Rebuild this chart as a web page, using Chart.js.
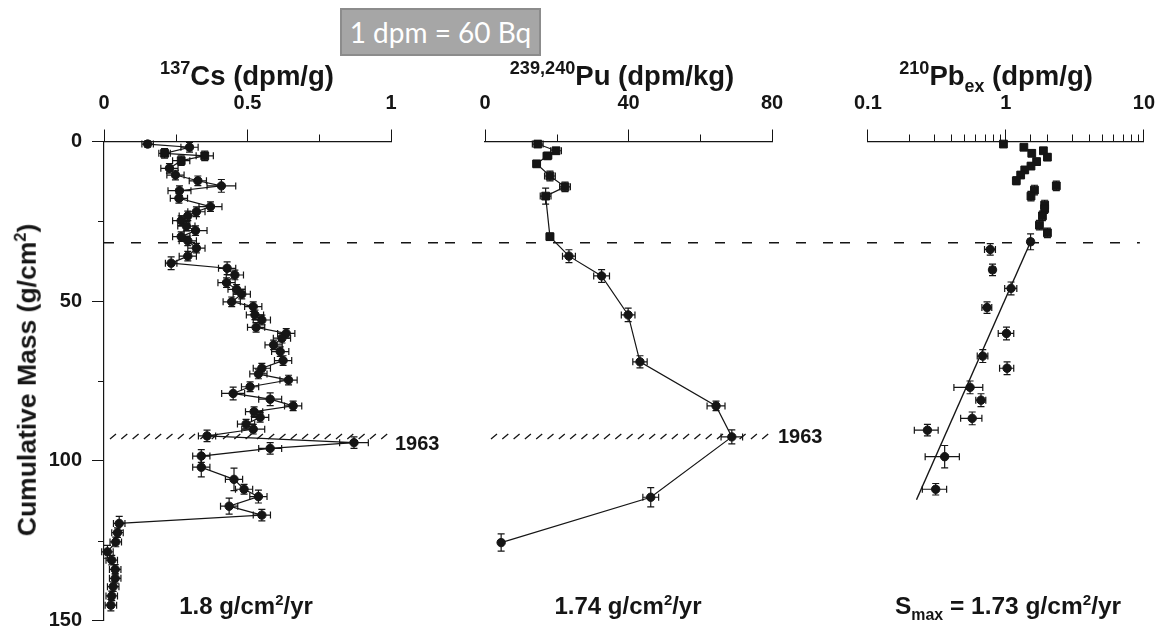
<!DOCTYPE html>
<html><head><meta charset="utf-8">
<script src="https://cdn.jsdelivr.net/npm/chart.js@4.4.1/dist/chart.umd.min.js"></script>
<style>
html,body{margin:0;padding:0;background:#fff;}
#wrap{position:relative;width:1169px;height:633px;overflow:hidden;background:#fff;}
canvas{position:absolute;top:0;}
.lbl{position:absolute;transform:translate(-50%,-50%);white-space:nowrap;font-family:'Liberation Sans',Arial,sans-serif;font-weight:bold;color:#151515;line-height:1;}
.sup{font-size:62%;position:relative;top:-0.62em;}
.sub{font-size:65%;position:relative;top:0.4em;}
.tsup{font-size:66%;position:relative;top:-0.6em;}
.box{position:absolute;left:340px;top:8px;width:201px;height:48px;box-sizing:border-box;background:#a6a6a6;border:2px solid #8c8c8c;color:#fff;font-family:Lato,'Open Sans',sans-serif;font-size:28px;display:flex;align-items:center;justify-content:center;white-space:nowrap;}
</style></head><body>
<div id="wrap">
<canvas id="c1" width="445" height="633" style="left:0px"></canvas>
<canvas id="c2" width="395" height="633" style="left:445px"></canvas>
<canvas id="c3" width="329" height="633" style="left:840px"></canvas>
<div class="box">1 dpm = 60 Bq</div>
<div class="lbl" style="left:247px;top:76px;font-size:27.5px"><span class="tsup">137</span>Cs (dpm/g)</div>
<div class="lbl" style="left:622px;top:76px;font-size:27.5px"><span class="tsup">239,240</span>Pu (dpm/kg)</div>
<div class="lbl" style="left:996px;top:76px;font-size:27.5px"><span class="tsup">210</span>Pb<span class="sub">ex</span> (dpm/g)</div>
<div class="lbl" style="left:27px;top:380px;font-size:26.5px;transform:translate(-50%,-50%) rotate(-90deg)">Cumulative Mass (g/cm<span class="sup">2</span>)</div>
<div class="lbl" style="left:246px;top:606px;font-size:24px">1.8 g/cm<span class="sup">2</span>/yr</div>
<div class="lbl" style="left:628px;top:606px;font-size:24px">1.74 g/cm<span class="sup">2</span>/yr</div>
<div class="lbl" style="left:1008px;top:606px;font-size:24.5px">S<span class="sub">max</span> = 1.73 g/cm<span class="sup">2</span>/yr</div>
</div>
<script>
// ---------- tick values ----------
const massMajor = [0, 50, 100, 150];
const csMajor = [0, 0.5, 1];
const puMajor = [0, 40, 80];
const pbMajor = [0.1, 1, 10];

// ---------- reference horizons (cumulative mass, g/cm2) ----------
const mixedLayerMass = 31.7;
const mass1963 = 92.4;

// ---------- 137Cs ----------
const csMass = [0.8,1.8,3.7,4.5,6.0,8.4,10.5,12.3,13.9,15.4,17.8,20.4,22.0,23.3,24.8,26.5,27.9,29.8,31.1,33.4,35.9,38.1,39.7,41.8,44.2,46.3,47.8,50.2,51.7,54.3,55.9,58.2,60.1,61.6,63.7,65.8,68.6,71.0,72.8,74.7,76.8,78.9,80.7,82.8,84.6,86.4,88.5,90.1,92.2,94.3,96.1,98.5,102.0,105.8,108.9,111.2,114.2,117.0,119.6,122.5,125.4,128.5,131.1,134.0,136.8,139.4,142.3,145.2];
const csAct = [0.152,0.298,0.211,0.351,0.269,0.228,0.249,0.327,0.409,0.263,0.261,0.371,0.322,0.292,0.269,0.287,0.319,0.269,0.292,0.322,0.292,0.234,0.429,0.456,0.427,0.462,0.480,0.445,0.520,0.526,0.550,0.530,0.635,0.620,0.591,0.614,0.624,0.550,0.538,0.643,0.509,0.450,0.579,0.659,0.523,0.544,0.495,0.520,0.359,0.871,0.579,0.339,0.339,0.453,0.488,0.538,0.436,0.550,0.053,0.047,0.041,0.012,0.027,0.039,0.039,0.032,0.027,0.024];
const csErrX = [0.02,0.03,0.02,0.03,0.03,0.03,0.03,0.03,0.05,0.04,0.03,0.04,0.03,0.03,0.03,0.03,0.04,0.03,0.03,0.03,0.03,0.02,0.03,0.03,0.03,0.03,0.03,0.03,0.03,0.03,0.03,0.03,0.03,0.03,0.03,0.03,0.03,0.03,0.03,0.03,0.03,0.04,0.04,0.03,0.03,0.03,0.03,0.04,0.03,0.05,0.04,0.03,0.03,0.03,0.03,0.03,0.03,0.03,0.02,0.02,0.02,0.02,0.02,0.02,0.02,0.02,0.02,0.02];
const csErrY = [1,1.5,1.5,1.5,1.5,1.5,1.5,1.5,2,1.5,1.5,1.5,1.5,1.5,1.5,1.5,1.5,1.5,1.5,1.5,1.5,2,2,1.5,1.5,1.5,1.5,1.5,1.5,1.5,1.5,1.5,1.5,1.5,1.5,1.5,1.5,1.5,1.5,1.5,1.5,2,2,1.5,1.5,1.5,1.5,1.5,1.8,1.8,1.8,2,3,3.5,1.5,2,2.5,1.8,2.2,1.5,1.5,2,1.5,1.5,1.5,1.5,1.5,1.8];
const csSquares = [2, 3, 4];

// ---------- 239,240Pu ----------
const puMass = [0.8,2.9,4.5,7.0,10.8,14.2,17.1,29.8,35.9,42.1,54.3,69.0,82.8,92.5,111.4,125.6];
const puAct = [14.7,19.8,17.4,14.4,18.1,22.3,16.9,18.1,23.4,32.5,39.9,43.2,64.4,68.8,46.2,4.5];
const puErrX = [1.5,1.5,1.2,1,1.5,1.5,1.5,1,1.8,2.2,1.9,2,2.5,3,2.2,0.5];
const puErrY = [1,1,1,1,1.5,1.5,2.5,1,2,2,2.1,1.9,1.5,2.2,3,2.7];
const puSquareCount = 8;

// ---------- 210Pb excess ----------
const pbMass = [0.8,1.8,2.9,3.7,4.9,6.3,7.7,8.9,10.5,12.3,13.9,15.2,17.1,19.9,21.0,23.3,26.2,28.6,31.4,33.8,40.2,46.0,52.0,60.1,67.2,71.0,77.0,81.0,86.7,90.4,98.7,108.9];
const pbAct = [0.96,1.35,1.87,1.54,2.0,1.67,1.52,1.37,1.28,1.19,2.32,1.61,1.52,1.91,1.91,1.84,1.75,2.0,1.51,0.77,0.80,1.09,0.73,1.01,0.68,1.02,0.55,0.66,0.57,0.27,0.36,0.31];
const pbErrX = [0.04,0.06,0.08,0.07,0.09,0.07,0.07,0.06,0.06,0.05,0.10,0.07,0.07,0.08,0.08,0.08,0.08,0.09,0.07,0.07,0.04,0.11,0.06,0.13,0.06,0.12,0.13,0.055,0.10,0.053,0.10,0.062];
const pbErrY = [0.8,0.8,0.8,1,1,1,1,1,1,1.2,1.5,1.5,1.5,1.5,1.5,1.5,1.5,1.5,2.5,1.8,1.8,2,1.8,2,2,2,2,2,2,1.8,3.5,1.8];
const pbSquareCount = 18;
// fitted line (Smax)
const pbFitMass = [31.7, 112.2];
const pbFitAct = [1.5, 0.225];

// ---------- helpers ----------
const INK = '#151515';
const TICKFONT = {family: "'Liberation Sans', Arial, sans-serif", size: 20, weight: 'bold'};
Chart.defaults.color = INK;
Chart.defaults.font.family = "'Liberation Sans', Arial, sans-serif";

function pts(xs, ys){ return xs.map((x,i)=>({x:x, y:ys[i]})); }
function isMajor(v, list){ return list.some(m => Math.abs(m - v) < 1e-9 * Math.max(1, Math.abs(m))); }

function drawErrorBars(chart){
  const ctx = chart.ctx, xs = chart.scales.x, ys = chart.scales.y;
  ctx.save(); ctx.strokeStyle = INK; ctx.lineWidth = 1.2;
  chart.data.datasets.forEach(ds => {
    if (!ds.errX) return;
    ds.data.forEach((p,i) => {
      const px = xs.getPixelForValue(p.x), py = ys.getPixelForValue(p.y);
      const x0 = xs.getPixelForValue(p.x - ds.errX[i]), x1 = xs.getPixelForValue(p.x + ds.errX[i]);
      const y0 = ys.getPixelForValue(p.y - ds.errY[i]), y1 = ys.getPixelForValue(p.y + ds.errY[i]);
      const c = 3.5;
      ctx.beginPath();
      ctx.moveTo(x0,py); ctx.lineTo(x1,py);
      ctx.moveTo(x0,py-c); ctx.lineTo(x0,py+c);
      ctx.moveTo(x1,py-c); ctx.lineTo(x1,py+c);
      ctx.moveTo(px,y0); ctx.lineTo(px,y1);
      ctx.moveTo(px-c,y0); ctx.lineTo(px+c,y0);
      ctx.moveTo(px-c,y1); ctx.lineTo(px+c,y1);
      ctx.stroke();
    });
  });
  ctx.restore();
}

function overlayPlugin(cfg){
  return {
    id: 'overlay',
    beforeDatasetsDraw(chart){ drawErrorBars(chart); },
    afterDraw(chart){
      const ctx = chart.ctx, xs = chart.scales.x, ys = chart.scales.y, a = chart.chartArea;
      ctx.save();
      ctx.strokeStyle = INK;
      ctx.lineWidth = 1;
      xs.ticks.forEach(t => {
        if (isMajor(t.value, cfg.major)) return;
        const px = Math.round(xs.getPixelForValue(t.value)) + 0.5;
        ctx.beginPath(); ctx.moveTo(px, a.top); ctx.lineTo(px, a.top - 7); ctx.stroke();
      });
      if (cfg.yAxis) {
        ys.ticks.forEach(t => {
          if (isMajor(t.value, massMajor)) return;
          const py = Math.round(ys.getPixelForValue(t.value)) + 0.5;
          ctx.beginPath(); ctx.moveTo(a.left, py); ctx.lineTo(a.left - 6, py); ctx.stroke();
        });
      }
      const yd = ys.getPixelForValue(mixedLayerMass);
      ctx.lineWidth = 1.4; ctx.setLineDash([10,17]);
      ctx.beginPath(); ctx.moveTo(cfg.dashFrom(a), yd); ctx.lineTo(cfg.dashTo(a, chart), yd); ctx.stroke();
      ctx.setLineDash([]);
      if (cfg.hatch) {
        const yh = ys.getPixelForValue(mass1963);
        ctx.lineWidth = 1.3;
        ctx.beginPath();
        for (let x = a.left + 6; x < a.right - 2; x += 11.3) {
          ctx.moveTo(x, yh + 2.5); ctx.lineTo(x + 6, yh - 2.5);
        }
        ctx.stroke();
        ctx.fillStyle = INK;
        ctx.font = "bold 20px 'Liberation Sans', Arial, sans-serif";
        ctx.textBaseline = 'middle'; ctx.textAlign = 'left';
        ctx.fillText('1963', a.right + cfg.labelDx, yh + cfg.labelDy);
      }
      ctx.restore();
    }
  };
}

function xScaleBase(extra){
  return Object.assign({
    position: 'top',
    afterFit(s){ s.height = 141.5; },
    border: {display: true, color: INK, width: 1.2},
    grid: {display: true, drawOnChartArea: false, drawTicks: true, tickLength: 12,
           tickColor: ctx => (ctx.tick && isMajor(ctx.tick.value, extra._major)) ? INK : 'rgba(0,0,0,0)'},
  }, extra);
}

function yScale(show){
  return {
    type: 'linear', reverse: true, min: 0, max: 150,
    display: show,
    afterFit(s){ s.width = show ? 104 : 0; s.paddingTop = 0; s.paddingBottom = 0; },
    border: {display: true, color: INK, width: 1.2},
    grid: {display: true, drawOnChartArea: false, drawTicks: true, tickLength: 12,
           tickColor: ctx => (ctx.tick && isMajor(ctx.tick.value, massMajor)) ? INK : 'rgba(0,0,0,0)'},
    ticks: {stepSize: 25, padding: 10, font: TICKFONT, color: INK,
            callback: v => isMajor(v, massMajor) ? String(v) : ''}
  };
}

function baseOptions(xs, yShow, pad){
  return {
    responsive: false, animation: false,
    layout: {padding: pad},
    plugins: {legend: {display: false}, tooltip: {enabled: false}},
    scales: {x: xs, y: yScale(yShow)}
  };
}

function seriesDataset(xs, ys, ex, ey, styles, showLine){
  return {
    data: pts(xs, ys), errX: ex, errY: ey,
    showLine: showLine, borderColor: INK, borderWidth: 1.2, tension: 0,
    pointStyle: styles, pointRadius: styles.map(s => s === 'rect' ? 5.5 : 4.2),
    pointBackgroundColor: INK, pointBorderColor: INK, pointBorderWidth: 1,
    clip: false
  };
}

// ---------- Chart 1 : Cs ----------
const csStyles = csAct.map((v,i) => csSquares.includes(i) ? 'rect' : 'circle');
new Chart(document.getElementById('c1'), {
  type: 'scatter',
  data: {datasets: [seriesDataset(csAct, csMass, csErrX, csErrY, csStyles, true)]},
  options: baseOptions(xScaleBase({
    _major: csMajor, type: 'linear', min: 0, max: 1,
    ticks: {stepSize: 0.25, padding: 14, font: TICKFONT, color: INK, maxRotation: 0,
            callback: v => isMajor(v, csMajor) ? String(v) : ''}
  }), true, {left: 0, right: 54, top: 0, bottom: 12.5}),
  plugins: [overlayPlugin({major: csMajor, yAxis: true, hatch: true, labelDx: 4, labelDy: 8,
    dashFrom: a => a.left, dashTo: (a, c) => c.width})]
});

// ---------- Chart 2 : Pu ----------
const puStyles = puAct.map((v,i) => i < puSquareCount ? 'rect' : 'circle');
new Chart(document.getElementById('c2'), {
  type: 'scatter',
  data: {datasets: [seriesDataset(puAct, puMass, puErrX, puErrY, puStyles, true)]},
  options: baseOptions(xScaleBase({
    _major: puMajor, type: 'linear', min: 0, max: 80,
    ticks: {stepSize: 20, padding: 14, font: TICKFONT, color: INK, maxRotation: 0,
            callback: v => isMajor(v, puMajor) ? String(v) : ''}
  }), false, {left: 40, right: 68, top: 0, bottom: 12.5}),
  plugins: [overlayPlugin({major: puMajor, yAxis: false, hatch: true, labelDx: 6, labelDy: 1,
    dashFrom: a => 0, dashTo: (a, c) => c.width})]
});

// ---------- Chart 3 : Pb ----------
const pbStyles = pbAct.map((v,i) => i < pbSquareCount ? 'rect' : 'circle');
const pbDs = seriesDataset(pbAct, pbMass, pbErrX, pbErrY, pbStyles, false);
new Chart(document.getElementById('c3'), {
  type: 'scatter',
  data: {datasets: [
    pbDs,
    {data: pts(pbFitAct, pbFitMass), showLine: true, borderColor: INK, borderWidth: 1.4, pointRadius: 0, clip: false}
  ]},
  options: baseOptions(xScaleBase({
    _major: pbMajor, type: 'logarithmic', min: 0.1, max: 10,
    ticks: {padding: 14, font: TICKFONT, color: INK, maxRotation: 0, autoSkip: false,
            callback: v => isMajor(v, pbMajor) ? String(v) : ''}
  }), false, {left: 26, right: 20, top: 0, bottom: 12.5}),
  plugins: [overlayPlugin({major: pbMajor, yAxis: false, hatch: false,
    dashFrom: a => 0, dashTo: (a, c) => a.right - 4})]
});
</script>
</body></html>
